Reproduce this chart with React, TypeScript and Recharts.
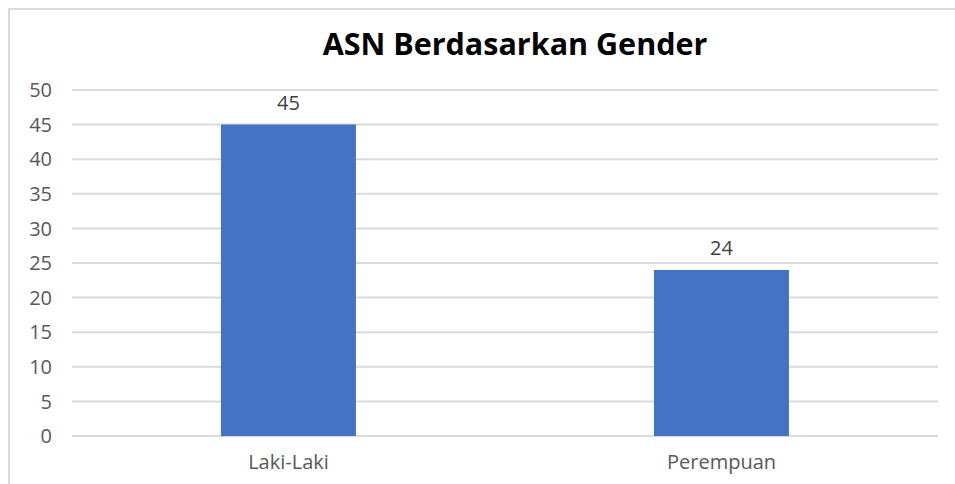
import { BarChart, Bar, XAxis, YAxis, CartesianGrid, LabelList } from 'recharts';

const categories = ['Laki-Laki', 'Perempuan'];
const jumlah = [45, 24];
const yTicks = [0, 5, 10, 15, 20, 25, 30, 35, 40, 45, 50];

const data = categories.map((name, i) => ({ name, jumlah: jumlah[i] }));

const font = '"Open Sans", "Noto Sans", sans-serif';

export default function App() {
    return (
        <>
            <style>{'html, body { overflow: hidden; }'}</style>
            <div
                style={{
                    position: 'absolute',
                    left: 8,
                    top: 8,
                    width: 945,
                    height: 474,
                    borderLeft: '2px solid #d9d9d9',
                    borderTop: '2px solid #d9d9d9',
                    fontFamily: font,
                    background: '#fff',
                    overflow: 'hidden',
                }}
            >
                <BarChart
                    width={945}
                    height={474}
                    data={data}
                    margin={{ top: 80, right: 17, left: 0, bottom: 0 }}
                    barCategoryGap="34.4%"
                >
                    <text
                        x={505}
                        y={45}
                        textAnchor="middle"
                        fontSize={30.5}
                        fontWeight="bold"
                        fill="#000"
                        fontFamily={font}
                    >
                        ASN Berdasarkan Gender
                    </text>
                    <CartesianGrid vertical={false} stroke="#d9d9d9" strokeWidth={2} />
                    <XAxis
                        dataKey="name"
                        height={48}
                        axisLine={false}
                        tickLine={false}
                        tickSize={0}
                        tickMargin={19}
                        tick={{ fill: '#595959', fontSize: 20, fontFamily: font }}
                    />
                    <YAxis
                        width={62}
                        domain={[0, 50]}
                        ticks={yTicks}
                        axisLine={false}
                        tickLine={false}
                        tickSize={0}
                        tickMargin={20}
                        tick={{ fill: '#595959', fontSize: 20, fontFamily: font }}
                    />
                    <Bar dataKey="jumlah" fill="#4472C4" isAnimationActive={false}>
                        <LabelList
                            dataKey="jumlah"
                            position="top"
                            offset={15}
                            fill="#404040"
                            fontSize={20}
                            fontFamily={font}
                        />
                    </Bar>
                </BarChart>
            </div>
        </>
    );
}
